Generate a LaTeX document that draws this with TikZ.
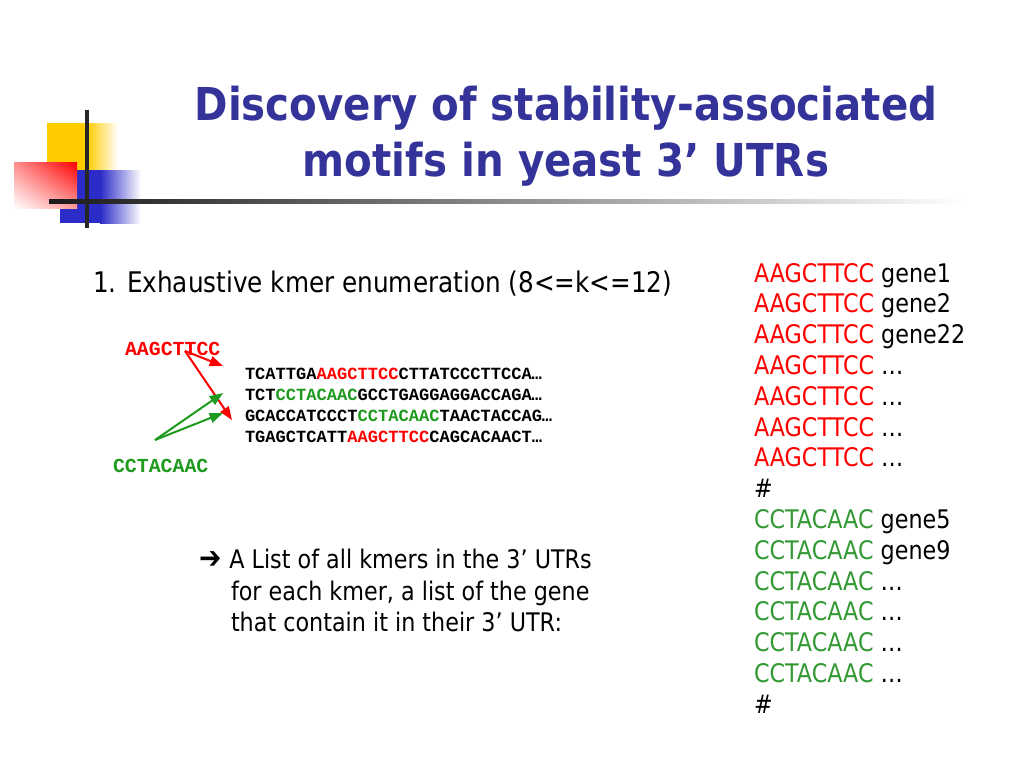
\documentclass[tikz,border=0pt]{standalone}
\usepackage{fontspec}
\setmainfont{DejaVu Sans}[FakeStretch=0.87]
\newfontfamily\titlefont{DejaVu Sans}[FakeStretch=0.89]
\newfontfamily\seqfont{Liberation Mono}
\usetikzlibrary{arrows.meta,shadings}
\definecolor{titleblue}{HTML}{333399}
\definecolor{kred}{HTML}{FF0000}
\definecolor{kgreen}{HTML}{339933}
\definecolor{sgreen}{HTML}{1E9B1E}
\definecolor{decoyellow}{HTML}{FFCC00}
\definecolor{decoblue}{HTML}{2B2BC8}
\newcommand{\R}[1]{\textcolor{kred}{#1}}
\newcommand{\G}[1]{\textcolor{sgreen}{#1}}
\begin{document}
\begin{tikzpicture}[x=0.75pt,y=-0.75pt,
  txt/.style={anchor=base west,inner sep=0pt,outer sep=0pt},
  titletxt/.style={anchor=base,inner sep=0pt,text=titleblue,font=\titlefont\bfseries\fontsize{34}{40}\selectfont},
  head/.style={txt,font=\fontsize{21.3}{25}\selectfont},
  body/.style={txt,font=\fontsize{19.2}{23}\selectfont},
  seq/.style={txt,font=\seqfont\bfseries\fontsize{12.8}{15}\selectfont},
  lab/.style={txt,font=\seqfont\bfseries\fontsize{14.9}{17}\selectfont},
  rarrow/.style={draw=kred,line width=1.5pt,-{Triangle[length=10pt,width=7.5pt]}},
  garrow/.style={draw=sgreen,line width=1.5pt,-{Triangle[length=10pt,width=7.5pt]}}]
\useasboundingbox (0,0) rectangle (1024,768);
\fill[white] (0,0) rectangle (1024,768);
% decoration
\fill[decoyellow] (47,123) rectangle (87,170);
\shade[left color=decoyellow,right color=white] (87,123) rectangle (118,170);
\fill[decoblue] (60,170) rectangle (100,223);
\shade[left color=decoblue,right color=white] (100,170) rectangle (141,223);
\shade[upper right=kred,upper left=kred!45,lower right=kred!40,lower left=white] (14,162) rectangle (77,208);
\fill[black!85] (85,110) rectangle (89,228);
\shade[left color=black!90,right color=white] (49,199) rectangle (965,203);
% title
\node[titletxt] (t1) at (566,120) {Discovery of stability-associated};
\node[titletxt] (t2) at (566,176) {motifs in yeast 3’ UTRs};
% heading
\node[head] (h) at (93,292) {1. Exhaustive kmer enumeration (8<=k<=12)};
% sequences
\node[lab,text=kred] (la) at (125,355) {AAGCTTCC};
\node[lab,text=sgreen] (lc) at (113,472) {CCTACAAC};
\node[seq] (s1) at (245,379) {TCATTGA\R{AAGCTTCC}CTTATCCCTTCCA…};
\node[seq] (s2) at (245,400) {TCT\G{CCTACAAC}GCCTGAGGAGGACCAGA…};
\node[seq] (s3) at (245,421) {GCACCATCCCT\G{CCTACAAC}TAACTACCAG…};
\node[seq] (s4) at (245,442) {TGAGCTCATT\R{AAGCTTCC}CAGCACAACT…};
\coordinate (ra) at (185,351);
\coordinate (rt1) at (223,366);
\coordinate (rt2) at (232,420);
\coordinate (ga) at (155,440);
\coordinate (gt1) at (223,393);
\coordinate (gt2) at (223,413);
\draw[rarrow] (ra) -- (rt1);
\draw[rarrow] (ra) -- (rt2);
\draw[garrow] (ga) -- (gt1);
\draw[garrow] (ga) -- (gt2);
% conclusion
\node[body] (c1) at (199,568) {{\fontsize{23}{23}\selectfont\textbf{➔}}\hspace{6pt}A List of all kmers in the 3’ UTRs};
\node[body] (c2) at (231,600) {for each kmer, a list of the gene};
\node[body] (c3) at (231,631) {that contain it in their 3’ UTR:};
% list
\foreach \i/\t in {0/{\textcolor{kred}{AAGCTTCC} gene1},1/{\textcolor{kred}{AAGCTTCC} gene2},2/{\textcolor{kred}{AAGCTTCC} gene22},3/{\textcolor{kred}{AAGCTTCC} …},4/{\textcolor{kred}{AAGCTTCC} …},5/{\textcolor{kred}{AAGCTTCC} …},6/{\textcolor{kred}{AAGCTTCC} …},7/{\#},8/{\textcolor{kgreen}{CCTACAAC} gene5},9/{\textcolor{kgreen}{CCTACAAC} gene9},10/{\textcolor{kgreen}{CCTACAAC} …},11/{\textcolor{kgreen}{CCTACAAC} …},12/{\textcolor{kgreen}{CCTACAAC} …},13/{\textcolor{kgreen}{CCTACAAC} …},14/{\#}}
  \node[body] (l\i) at (754,282+30.8*\i) {\t};
\end{tikzpicture}
\end{document}
